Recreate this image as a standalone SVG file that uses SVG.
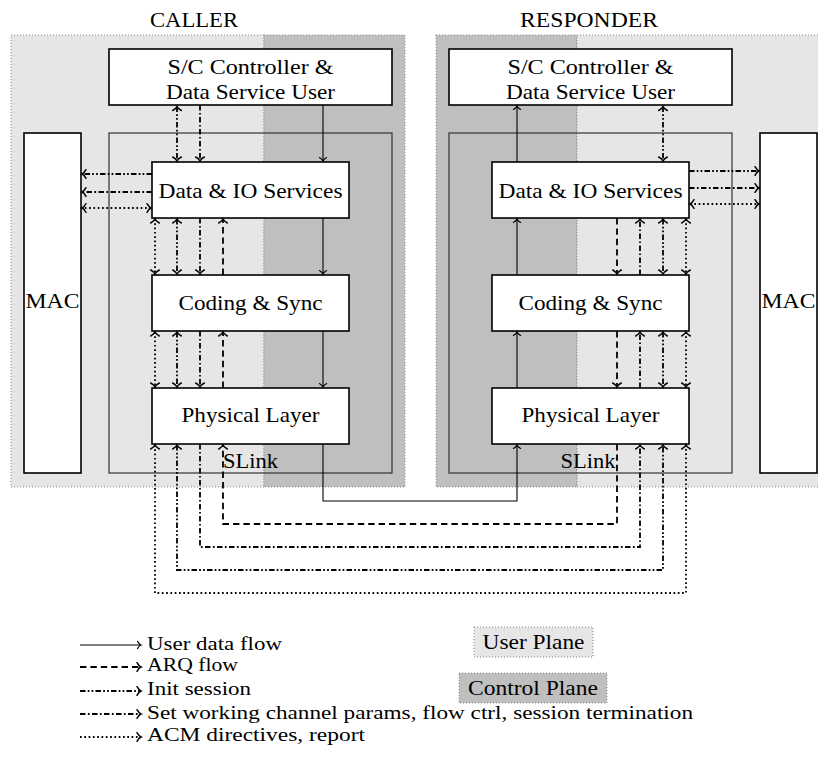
<svg xmlns="http://www.w3.org/2000/svg" width="818" height="764" viewBox="0 0 818 764">
<defs>
<style>
text{font-family:"Liberation Serif","Times New Roman",serif;font-size:21px;fill:#000}
.c{text-anchor:middle}
.lg{font-size:18.5px}
.box{fill:#fff;stroke:#000;stroke-width:1.6}
.slink{fill:none;stroke:#333;stroke-width:1.2}
.lt{fill:#e6e6e6;stroke:#8a8a8a;stroke-width:1;stroke-dasharray:1 2}
.dk{fill:#bfbfbf;stroke:#8a8a8a;stroke-width:1;stroke-dasharray:1 2}
.ln{fill:none;stroke:#000}
.s{stroke-width:1.1;marker-end:url(#hs)}
.t{stroke-width:1.8}
.dash{stroke-dasharray:6.4 4}
.dd{stroke-dasharray:5.5 2.2 1.7 2.2 1.7 2.2}
.da{stroke-dasharray:5.5 2.4 1.7 2.4}
.dot{stroke-dasharray:1.7 2.6}
.e{marker-end:url(#h)}
.b{marker-start:url(#h);marker-end:url(#h)}
</style>
<marker id="h" markerUnits="userSpaceOnUse" orient="auto-start-reverse" refX="0" refY="0" markerWidth="10" markerHeight="10" overflow="visible">
<path d="M-4,-4.3 C-2.5,-1.7 -1,-0.4 0,0 C-1,0.4 -2.5,1.7 -4,4.3" fill="none" stroke="#000" stroke-width="1.5" stroke-linecap="round"/>
</marker>
<marker id="hs" markerUnits="userSpaceOnUse" orient="auto-start-reverse" refX="0" refY="0" markerWidth="10" markerHeight="10" overflow="visible">
<path d="M-3.5,-3.6 C-2.2,-1.4 -0.9,-0.3 0,0 C-0.9,0.3 -2.2,1.4 -3.5,3.6" fill="none" stroke="#000" stroke-width="1.1" stroke-linecap="round"/>
</marker>
</defs>

<g id="caller">
<rect class="lt" x="11" y="35" width="253" height="452"/>
<rect class="dk" x="264" y="35" width="141" height="452"/>
<text class="c" x="194" y="27" textLength="88" lengthAdjust="spacingAndGlyphs">CALLER</text>
</g>
<g id="responder">
<rect class="dk" x="436" y="35" width="141" height="452"/>
<rect class="lt" x="577" y="35" width="253" height="452"/>
<text class="c" x="589" y="27" textLength="138" lengthAdjust="spacingAndGlyphs">RESPONDER</text>
</g>

<g id="slink-caller">
<rect class="slink" x="109" y="133" width="283" height="340"/>
<text class="c" x="250.5" y="468" textLength="55" lengthAdjust="spacingAndGlyphs" fill="#222">SLink</text>
</g>
<g id="slink-responder">
<rect class="slink" x="449" y="133" width="283" height="340"/>
<text class="c" x="588" y="468" textLength="55" lengthAdjust="spacingAndGlyphs">SLink</text>
</g>

<g id="mac-caller">
<rect class="box" x="24" y="133" width="57" height="340"/>
<text class="c" x="52.5" y="308" textLength="54" lengthAdjust="spacingAndGlyphs">MAC</text>
</g>
<g id="mac-responder">
<rect class="box" x="760" y="133" width="57" height="340"/>
<text class="c" x="788.5" y="308" textLength="54" lengthAdjust="spacingAndGlyphs">MAC</text>
</g>

<g id="sc-caller">
<rect class="box" x="109" y="49" width="283" height="56"/>
<text class="c" x="250.5" y="74" textLength="166" lengthAdjust="spacingAndGlyphs">S/C Controller &amp;</text>
<text class="c" x="250.5" y="99" textLength="169" lengthAdjust="spacingAndGlyphs">Data Service User</text>
</g>
<g id="sc-responder">
<rect class="box" x="449" y="49" width="283" height="56"/>
<text class="c" x="590.5" y="74" textLength="166" lengthAdjust="spacingAndGlyphs">S/C Controller &amp;</text>
<text class="c" x="590.5" y="99" textLength="169" lengthAdjust="spacingAndGlyphs">Data Service User</text>
</g>

<g id="data-caller">
<rect class="box" x="152" y="162" width="197" height="56"/>
<text class="c" x="250.5" y="198" textLength="184" lengthAdjust="spacingAndGlyphs">Data &amp; IO Services</text>
</g>
<g id="coding-caller">
<rect class="box" x="152" y="275" width="197" height="56"/>
<text class="c" x="250.5" y="310" textLength="144" lengthAdjust="spacingAndGlyphs">Coding &amp; Sync</text>
</g>
<g id="phys-caller">
<rect class="box" x="152" y="388" width="197" height="56"/>
<text class="c" x="250.5" y="422" textLength="138" lengthAdjust="spacingAndGlyphs">Physical Layer</text>
</g>
<g id="data-responder">
<rect class="box" x="492" y="162" width="197" height="56"/>
<text class="c" x="590.5" y="198" textLength="184" lengthAdjust="spacingAndGlyphs">Data &amp; IO Services</text>
</g>
<g id="coding-responder">
<rect class="box" x="492" y="275" width="197" height="56"/>
<text class="c" x="590.5" y="310" textLength="144" lengthAdjust="spacingAndGlyphs">Coding &amp; Sync</text>
</g>
<g id="phys-responder">
<rect class="box" x="492" y="388" width="197" height="56"/>
<text class="c" x="590.5" y="422" textLength="138" lengthAdjust="spacingAndGlyphs">Physical Layer</text>
</g>

<g id="connectors">
<path class="ln s" d="M323,105 V161"/>
<path class="ln s" d="M323,218 V274"/>
<path class="ln s" d="M323,331 V387"/>
<path class="ln s" d="M323,444 V501 H517 V445"/>
<path class="ln s" d="M517,388 V332"/>
<path class="ln s" d="M517,275 V219"/>
<path class="ln s" d="M517,162 V106"/>
<path class="ln t dd b" d="M177,106.5 V161"/>
<path class="ln t da e" d="M200,105 V161"/>
<path class="ln t dot b" d="M155,219 V274"/>
<path class="ln t dd b" d="M177,219 V274"/>
<path class="ln t da e" d="M200,218 V274"/>
<path class="ln t dash e" d="M223,275 V219"/>
<path class="ln t dot b" d="M155,332 V387"/>
<path class="ln t dd b" d="M177,332 V387"/>
<path class="ln t da e" d="M200,331 V387"/>
<path class="ln t dash e" d="M223,388 V332"/>
<path class="ln t dd e" d="M152,174 H82"/>
<path class="ln t da e" d="M152,192 H82"/>
<path class="ln t dot b" d="M151,208 H82"/>
<path class="ln t dot b" d="M155,445 V593 H686 V445"/>
<path class="ln t dd b" d="M177,445 V570 H663 V445"/>
<path class="ln t da e" d="M200,444 V547 H640 V445"/>
<path class="ln t dash e" d="M617,444 V524 H223 V445"/>
<path class="ln t dd b" d="M663,106.5 V161"/>
<path class="ln t dash e" d="M617,218 V274"/>
<path class="ln t da e" d="M640,275 V219"/>
<path class="ln t dd b" d="M663,219 V274"/>
<path class="ln t dot b" d="M686,219 V274"/>
<path class="ln t dash e" d="M617,331 V387"/>
<path class="ln t da e" d="M640,388 V332"/>
<path class="ln t dd b" d="M663,332 V387"/>
<path class="ln t dot b" d="M686,332 V387"/>
<path class="ln t dd e" d="M689,171 H759"/>
<path class="ln t da e" d="M689,188 H759"/>
<path class="ln t dot b" d="M690,204 H759"/>
</g>

<g id="legend">
<path class="ln s" d="M80,645 H141"/>
<path class="ln t dash e" d="M80,667 H141"/>
<path class="ln t dd e" d="M80,691 H141"/>
<path class="ln t da e" d="M80,714 H141"/>
<path class="ln t dot e" d="M80,737 H141"/>
<text class="lg" x="147" y="649.5" textLength="135" lengthAdjust="spacingAndGlyphs">User data flow</text>
<text class="lg" x="147" y="671" textLength="91" lengthAdjust="spacingAndGlyphs">ARQ flow</text>
<text class="lg" x="147" y="695" textLength="104" lengthAdjust="spacingAndGlyphs">Init session</text>
<text class="lg" x="147" y="719" textLength="546" lengthAdjust="spacingAndGlyphs">Set working channel params, flow ctrl, session termination</text>
<text class="lg" x="147" y="741" textLength="218" lengthAdjust="spacingAndGlyphs">ACM directives, report</text>
<rect class="lt" x="474" y="627" width="119" height="30"/>
<text class="c" x="533.5" y="648.5" textLength="102" lengthAdjust="spacingAndGlyphs">User Plane</text>
<rect class="dk" x="459" y="673" width="148" height="30"/>
<text class="c" x="533" y="695" textLength="130" lengthAdjust="spacingAndGlyphs">Control Plane</text>
</g>
</svg>
